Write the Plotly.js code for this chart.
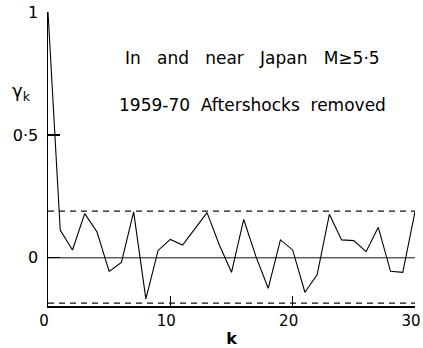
<!DOCTYPE html>
<html>
<head>
<meta charset="utf-8">
<script src="https://cdn.plot.ly/plotly-3.0.1.min.js"></script>
<style>
  html, body { margin: 0; padding: 0; background: #fff; }
  #chart { width: 423px; height: 348px; }
</style>
</head>
<body>
<div id="chart"></div>
<script>
// Autocorrelation coefficients r_k of the earthquake series, lags 0..30
const lags = [0, 1, 2, 3, 4, 5, 6, 7, 8, 9, 10,
              11, 12, 13, 14, 15, 16, 17, 18, 19, 20,
              21, 22, 23, 24, 25, 26, 27, 28, 29, 30];
const rk = [1.0, 0.113, 0.032, 0.18, 0.106, -0.055, -0.019, 0.187, -0.167, 0.03, 0.075,
            0.052, 0.118, 0.184, 0.053, -0.059, 0.156, 0.005, -0.124, 0.073, 0.032,
            -0.14, -0.069, 0.177, 0.073, 0.07, 0.025, 0.124, -0.055, -0.059, 0.187];

// Confidence band limits
const bandLags = [0, 30];
const bandUpper = [0.19, 0.19];
const bandLower = [-0.184, -0.184];
const zeroLine = [0, 0];

const yTickVals = [0, 0.5, 1];
const yTickText = ['0', '0·5', '1'];
const xTickVals = [0, 10, 20, 30];
const xTickText = ['0', '10', '20', '30'];

const FONT = 'DejaVu Sans, Liberation Sans, sans-serif';
const gap2 = '\u00a0\u00a0';
const gap3 = '\u00a0\u00a0\u00a0';

const traces = [
  { x: bandLags, y: zeroLine, mode: 'lines', line: { color: '#111', width: 1 }, hoverinfo: 'skip' },
  { x: bandLags, y: bandUpper, mode: 'lines', line: { color: '#111', width: 1.2, dash: '6px,5px' }, hoverinfo: 'skip' },
  { x: bandLags, y: bandLower, mode: 'lines', line: { color: '#111', width: 1.2, dash: '6px,5px' }, hoverinfo: 'skip' },
  { x: lags, y: rk, mode: 'lines', line: { color: '#000', width: 1.1 }, cliponaxis: false }
];

const layout = {
  width: 423, height: 348,
  margin: { l: 48, r: 8, t: 12, b: 42 },
  paper_bgcolor: '#fff', plot_bgcolor: '#fff',
  showlegend: false,
  font: { family: FONT, color: '#000', size: 16 },
  xaxis: {
    range: [0, 30], showgrid: false, zeroline: false,
    showline: true, linecolor: '#000', linewidth: 1.5,
    ticks: 'inside', ticklen: 10, tickwidth: 1.2, tickcolor: '#000',
    tickvals: xTickVals, ticktext: xTickText,
    tickfont: { family: FONT, size: 15 },
    ticklabeloverflow: 'allow',
    ticklabelshift: -4,
    title: { text: '<b>k</b>', font: { family: FONT, size: 16 }, standoff: 4 }
  },
  yaxis: {
    range: [-0.196, 1], showgrid: false, zeroline: false,
    showline: true, linecolor: '#000', linewidth: 1.5,
    ticks: 'inside', ticklen: 12, tickwidth: 1.2, tickcolor: '#000',
    tickvals: yTickVals, ticktext: yTickText,
    tickfont: { family: FONT, size: 16 },
    ticklabeloverflow: 'allow',
    ticklabelstandoff: 5
  },
  annotations: [
    { xref: 'paper', yref: 'paper', x: -0.04, y: 0.728, xanchor: 'right', yanchor: 'middle',
      text: 'γ<sub>k</sub>', showarrow: false, font: { family: FONT, size: 18 } },
    { xref: 'paper', yref: 'paper', x: 0.556, y: 0.843, xanchor: 'center', yanchor: 'middle',
      text: 'In' + gap3 + 'and' + gap3 + 'near' + gap3 + 'Japan' + gap3 + 'M≥5·5', showarrow: false,
      font: { family: FONT, size: 17 } },
    { xref: 'paper', yref: 'paper', x: 0.556, y: 0.684, xanchor: 'center', yanchor: 'middle',
      text: '1959-70' + gap2 + 'Aftershocks' + gap2 + 'removed', showarrow: false,
      font: { family: FONT, size: 17 } }
  ]
};

Plotly.newPlot('chart', traces, layout, { staticPlot: true, displayModeBar: false });
</script>
</body>
</html>
